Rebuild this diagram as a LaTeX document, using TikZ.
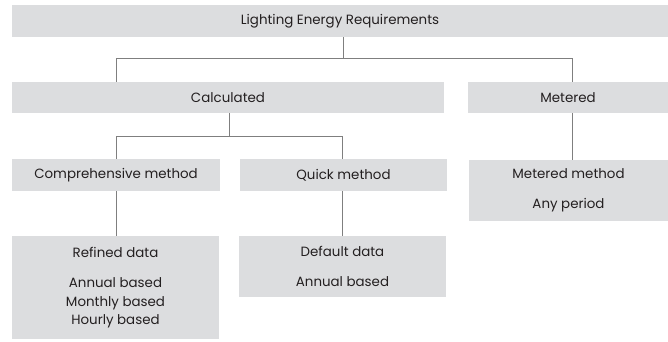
\documentclass[tikz,border=0pt]{standalone}
\usepackage{fontspec}
\setmainfont{Poppins}
\definecolor{boxgray}{HTML}{DCDDDF}
\definecolor{linegray}{HTML}{7F7F7F}
\definecolor{txt}{HTML}{231F20}
\tikzset{
  box/.style={fill=boxgray, draw=none, inner sep=0pt, text=txt,
    font=\fontsize{13.4}{18.5}\selectfont, align=center},
  conn/.style={draw=linegray, line width=0.8pt}
}
\begin{document}
\begin{tikzpicture}[x=1pt,y=-1pt]
\useasboundingbox (0,0) rectangle (668,341);
% boxes
\node[box, minimum width=656pt, minimum height=32pt] (top) at (340,21) {Lighting Energy Requirements};
\node[box, minimum width=432pt, minimum height=31pt] (calc) at (228,97.5) {Calculated};
\node[box, minimum width=200pt, minimum height=31pt] (met) at (568,97.5) {Metered};
\node[box, minimum width=208pt, minimum height=32pt] (comp) at (116,175) {Comprehensive method};
\node[box, minimum width=207pt, minimum height=32pt] (quick) at (343.5,175) {Quick method};
\node[box, minimum width=207pt, minimum height=103pt] (refined) at (115.5,287.5) {Refined data\\[12pt]Annual based\\Monthly based\\Hourly based};
\node[box, minimum width=207pt, minimum height=61pt] (default) at (342.5,266.5) {Default data\\[12pt]Annual based};
\node[box, minimum width=199pt, minimum height=61pt] (metm) at (568.5,190.5) {Metered method\\[12pt]Any period};
% junctions
\coordinate (j1) at (343,58);
\coordinate (j1l) at (116,58);
\coordinate (j1r) at (572,58);
\coordinate (j2) at (229,136);
\coordinate (j2l) at (116,136);
\coordinate (j2r) at (342,136);
% connectors
\draw[conn] (top.south -| j1) -- (j1);
\draw[conn] (calc.north -| j1l) -- (j1l) -- (j1r) -- (met.north -| j1r);
\draw[conn] (calc.south -| j2) -- (j2);
\draw[conn] (comp.north -| j2l) -- (j2l) -- (j2r) -- (quick.north -| j2r);
\draw[conn] (comp.south -| j2l) -- (refined.north -| j2l);
\draw[conn] (quick.south -| j2r) -- (default.north -| j2r);
\draw[conn] (met.south -| j1r) -- (metm.north -| j1r);
\end{tikzpicture}
\end{document}
